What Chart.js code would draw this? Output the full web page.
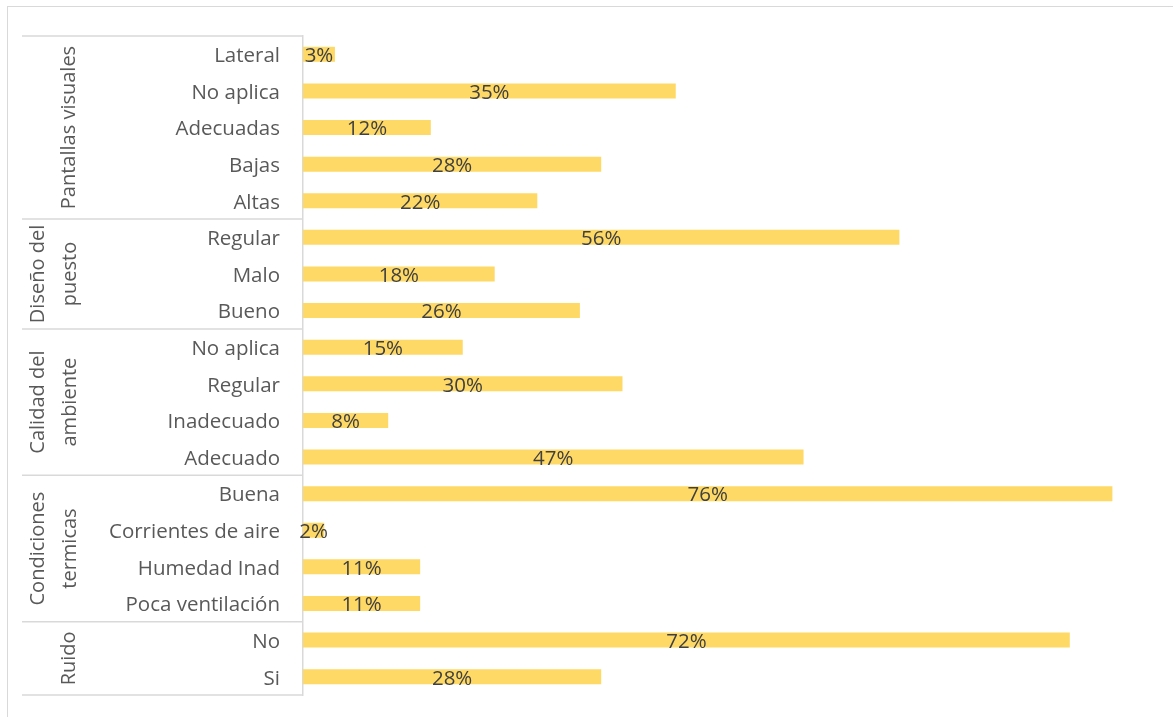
<!DOCTYPE html>
<html>
<head>
<meta charset="utf-8">
<script src="https://cdn.jsdelivr.net/npm/chart.js@4/dist/chart.umd.min.js"></script>
<style>
  body { margin: 0; background: #fff; }
  #wrap { position: relative; width: 1173px; height: 717px; overflow: hidden; }
  #barChart { display: block; }
  #frame { position: absolute; left: 7px; top: 6px; width: 1200px; height: 760px; border: 1px solid #d9d9d9; pointer-events: none; }
</style>
</head>
<body>
<div id="wrap">
  <canvas id="barChart" width="1173" height="717"></canvas>
  <div id="frame"></div>
</div>
<script>
// categories, top to bottom
const categories = [
  "Lateral", "No aplica", "Adecuadas", "Bajas", "Altas",
  "Regular", "Malo", "Bueno",
  "No aplica", "Regular", "Inadecuado", "Adecuado",
  "Buena", "Corrientes de aire", "Humedad Inad", "Poca ventilación",
  "No", "Si"
];
const percentages = [3, 35, 12, 28, 22, 56, 18, 26, 15, 30, 8, 47, 76, 2, 11, 11, 72, 28];

// outer groups (label lines and how many categories each one covers)
const groupNames = [["Pantallas visuales"], ["Diseño del", "puesto"], ["Calidad del", "ambiente"], ["Condiciones", "termicas"], ["Ruido"]];
const groupSizes = [5, 3, 4, 4, 2];

const fontName = "'Open Sans', sans-serif";
const fontSize = 20.5;

let groupAxis = {
  id: "groupAxis",

  afterDraw: function (chart) {
    const ctx = chart.ctx;
    const y = chart.scales.y;
    const axisX = chart.chartArea.left;
    const step = y.getPixelForValue(1) - y.getPixelForValue(0);

    ctx.save();
    ctx.strokeStyle = "#d9d9d9";
    ctx.lineWidth = 1.5;

    let start = 0;
    for (let g = 0; g < groupSizes.length; g++) {
      const top = y.getPixelForValue(start) - step / 2;
      const bottom = top + groupSizes[g] * step;

      ctx.beginPath();
      ctx.moveTo(22, top);
      ctx.lineTo(axisX, top);
      if (g === groupSizes.length - 1) {
        ctx.moveTo(22, bottom);
        ctx.lineTo(axisX, bottom);
      }
      ctx.stroke();

      // rotated group title
      const lines = groupNames[g];
      ctx.save();
      ctx.translate(0, (top + bottom) / 2);
      ctx.rotate(-Math.PI / 2);
      ctx.fillStyle = "#595959";
      ctx.font = "20px " + fontName;
      ctx.textAlign = "center";
      ctx.textBaseline = "middle";
      if (lines.length === 1) {
        ctx.fillText(lines[0], 0, 69);
      } else {
        ctx.fillText(lines[0], 0, 38);
        ctx.fillText(lines[1], 0, 70);
      }
      ctx.restore();

      start += groupSizes[g];
    }
    ctx.restore();
  },

  afterDatasetsDraw: function (chart) {
    const ctx = chart.ctx;
    const bars = chart.getDatasetMeta(0).data;

    ctx.save();
    ctx.fillStyle = "#404040";
    ctx.font = fontSize + "px " + fontName;
    ctx.textAlign = "center";
    ctx.textBaseline = "middle";
    bars.forEach(function (bar, i) {
      ctx.fillText(percentages[i] + "%", (bar.x + bar.base) / 2, bar.y + 2);
    });
    ctx.restore();
  }
};

const barCanvas = document.getElementById("barChart").getContext("2d");

const barChart = new Chart(barCanvas, {
  type: "bar",
  data: {
    labels: categories,
    datasets: [
      {
        data: percentages,
        backgroundColor: "#ffd966",
        barPercentage: 0.41,
        categoryPercentage: 1
      }
    ]
  },
  options: {
    indexAxis: "y",
    responsive: false,
    animation: false,
    layout: {
      padding: { left: 0, top: 36, right: 18, bottom: 22 }
    },
    plugins: {
      legend: { display: false },
      tooltip: { enabled: false }
    },
    scales: {
      x: {
        display: false,
        min: 0,
        max: 80
      },
      y: {
        afterFit: function (scale) {
          scale.width = 303;
          // the tick padding must not eat into the plot height
          scale.paddingTop = 0;
          scale.paddingBottom = 0;
        },
        grid: { display: false, drawTicks: false },
        border: { display: true, color: "#d9d9d9", width: 1.5 },
        ticks: {
          padding: 23,
          labelOffset: 2,
          color: "#595959",
          font: { family: fontName, size: fontSize }
        }
      }
    }
  },
  plugins: [groupAxis]
});
</script>
</body>
</html>
